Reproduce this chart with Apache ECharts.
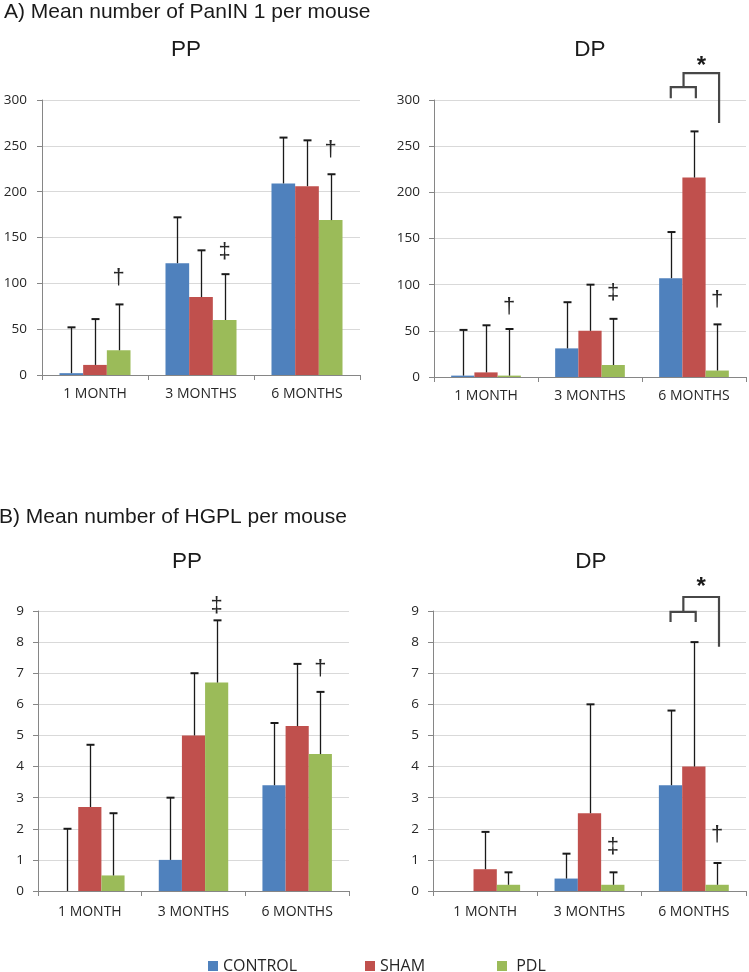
<!DOCTYPE html>
<html>
<head>
<meta charset="utf-8">
<script src="https://cdn.jsdelivr.net/npm/echarts@6/dist/echarts.min.js"></script>
<style>
html,body{margin:0;padding:0;background:#fff;}
#chart{width:749px;height:972px;}
</style>
</head>
<body>
<div id="chart"></div>
<script>
// ---------- data ----------
const categories = ['1 MONTH', '3 MONTHS', '6 MONTHS'];
const groupNames = ['CONTROL', 'SHAM', 'PDL'];
const colors = ['#4f81bd', '#c0504d', '#9bbb59'];

// A) PanIN 1 – PP  (mean, mean+SD)
const aPP_control = [2, 122, 209];
const aPP_sham = [11, 85, 206];
const aPP_pdl = [27, 60, 169];
const aPP_control_top = [52, 172, 259];
const aPP_sham_top = [61, 136, 256];
const aPP_pdl_top = [77, 110, 219];

// A) PanIN 1 – DP
const aDP_control = [1.5, 31, 107];
const aDP_sham = [5, 50, 216];
const aDP_pdl = [1.5, 13, 7];
const aDP_control_top = [51, 81, 157];
const aDP_sham_top = [56, 100, 266];
const aDP_pdl_top = [52, 63, 57];

// B) HGPL – PP
const bPP_control = [0, 1, 3.4];
const bPP_sham = [2.7, 5, 5.3];
const bPP_pdl = [0.5, 6.7, 4.4];
const bPP_control_top = [2, 3, 5.4];
const bPP_sham_top = [4.7, 7, 7.3];
const bPP_pdl_top = [2.5, 8.7, 6.4];

// B) HGPL – DP
const bDP_control = [0, 0.4, 3.4];
const bDP_sham = [0.7, 2.5, 4];
const bDP_pdl = [0.2, 0.2, 0.2];
const bDP_control_top = [0, 1.2, 5.8];
const bDP_sham_top = [1.9, 6, 8];
const bDP_pdl_top = [0.6, 0.6, 0.9];

// significance symbols: [category index, group index, value level, symbol]
const aPP_marks = [[0, 2, 106, '†'], [1, 2, 134, '‡'], [2, 2, 245, '†']];
const aDP_marks = [[0, 2, 76, '†'], [1, 2, 91, '‡'], [2, 2, 84, '†']];
const bPP_marks = [[1, 2, 9.16, '‡'], [2, 2, 7.14, '†']];
const bDP_marks = [[1, 2, 1.41, '‡'], [2, 2, 1.8, '†']];

// brackets (value levels): [cat, legBottom, smallLevel, bigLevel, rightLegBottom, starLevel]
const aDP_bracket = [2, 302, 314, 329, 275, 340];
const bDP_bracket = [2, 8.65, 8.97, 9.45, 7.85, 9.84];

// y axis ticks
const aTicks = {min: 0, max: 300, interval: 50};
const bTicks = {min: 0, max: 9, interval: 1};

// ---------- layout / style ----------
const CAT_GAP = 0.33;
const FONT = "'Open Sans', 'Liberation Sans', sans-serif";
const grids = [
  {left: 42, top: 100, width: 318, height: 275},
  {left: 434, top: 100, width: 312, height: 277},
  {left: 38, top: 611, width: 311, height: 280},
  {left: 433, top: 611, width: 313, height: 280}
];
const yMargins = [15, 14, 14, 14];
const xMargins = [12, 12, 14, 14];
const yScales = [aTicks, aTicks, bTicks, bTicks];

function barW(api) {
  const band = api.size([1, 0])[0];
  return band * (1 - CAT_GAP) / 3;
}

function barSeries(g, name, idx, data) {
  return {
    type: 'bar', name: name, xAxisIndex: g, yAxisIndex: g, data: data,
    barGap: '0%', barCategoryGap: (CAT_GAP * 100) + '%',
    itemStyle: {color: colors[idx]}, silent: true, animation: false
  };
}

function errSeries(g, idx, means, tops) {
  return {
    type: 'custom', xAxisIndex: g, yAxisIndex: g, silent: true, animation: false, z: 5,
    data: means.map((m, i) => [i, m, tops[i]]),
    renderItem: function (params, api) {
      const c = api.value(0);
      const p0 = api.coord([c, api.value(1)]);
      const p1 = api.coord([c, api.value(2)]);
      if (api.value(2) <= api.value(1)) return null;
      const x = Math.round(p0[0] + (idx - 1) * barW(api)) + 0.5;
      return {
        type: 'group', children: [
          {type: 'line', shape: {x1: x, y1: p0[1], x2: x, y2: p1[1]}, style: {stroke: '#1a1a1a', lineWidth: 1.3}},
          {type: 'line', shape: {x1: x - 4, y1: p1[1], x2: x + 4, y2: p1[1]}, style: {stroke: '#1a1a1a', lineWidth: 2}}
        ]
      };
    }
  };
}

function markSeries(g, marks) {
  return {
    type: 'custom', xAxisIndex: g, yAxisIndex: g, silent: true, animation: false, z: 6,
    data: marks.map(m => [m[0], m[1], m[2]]),
    renderItem: function (params, api) {
      const p = api.coord([api.value(0), api.value(2)]);
      const x = p[0] + (api.value(1) - 1) * barW(api);
      return {
        type: 'text', x: x, y: p[1],
        style: {text: marks[params.dataIndex][3], fontSize: 22, fontFamily: "'Liberation Sans', Arial, sans-serif",
          fill: '#262626', align: 'center', verticalAlign: 'middle'}
      };
    }
  };
}

function bracketSeries(g, b) {
  return {
    type: 'custom', xAxisIndex: g, yAxisIndex: g, silent: true, animation: false, z: 6, clip: false,
    data: [b],
    renderItem: function (params, api) {
      const c = api.value(0);
      const w = barW(api);
      const cx = api.coord([c, 0])[0];
      const Y = v => api.coord([c, v])[1];
      const xl = cx - 1.0 * w, xr = cx + 0.08 * w, xm = cx - 0.45 * w, xR = cx + 1.08 * w;
      const yLeg = Y(api.value(1)), ySmall = Y(api.value(2)), yBig = Y(api.value(3)),
            yRB = Y(api.value(4)), yStar = Y(api.value(5));
      const st = {stroke: '#474747', lineWidth: 2.2, fill: null};
      return {
        type: 'group', children: [
          {type: 'polyline', shape: {points: [[xl, yLeg], [xl, ySmall], [xr, ySmall], [xr, yLeg]]}, style: st},
          {type: 'polyline', shape: {points: [[xm, ySmall], [xm, yBig], [xR, yBig], [xR, yRB]]}, style: st},
          {type: 'text', x: (xm + xR) / 2, y: yStar + 3,
            style: {text: '*', fontSize: 24, fontWeight: 'bold', fontFamily: "'Liberation Sans', Arial, sans-serif",
              fill: '#1a1a1a', align: 'center', verticalAlign: 'middle'}}
        ]
      };
    }
  };
}

const xAxes = grids.map((g, i) => ({
  type: 'category', gridIndex: i, data: categories,
  axisLine: {lineStyle: {color: '#868686', width: 1}},
  axisTick: {show: true, length: 5, lineStyle: {color: '#868686'}},
  axisLabel: {fontSize: 14, color: '#262626', fontFamily: FONT, margin: xMargins[i]}
}));
const yAxes = grids.map((g, i) => ({
  type: 'value', gridIndex: i, min: yScales[i].min, max: yScales[i].max, interval: yScales[i].interval,
  axisLine: {show: true, lineStyle: {color: '#868686', width: 1}},
  axisTick: {show: true, length: 5, lineStyle: {color: '#868686'}},
  splitLine: {lineStyle: {color: '#d9d9d9', width: 1}},
  axisLabel: {fontSize: 13.5, color: '#262626', fontFamily: FONT, margin: yMargins[i]}
}));

const series = [
  barSeries(0, 'CONTROL', 0, aPP_control), barSeries(0, 'SHAM', 1, aPP_sham), barSeries(0, 'PDL', 2, aPP_pdl),
  barSeries(1, 'CONTROL', 0, aDP_control), barSeries(1, 'SHAM', 1, aDP_sham), barSeries(1, 'PDL', 2, aDP_pdl),
  barSeries(2, 'CONTROL', 0, bPP_control), barSeries(2, 'SHAM', 1, bPP_sham), barSeries(2, 'PDL', 2, bPP_pdl),
  barSeries(3, 'CONTROL', 0, bDP_control), barSeries(3, 'SHAM', 1, bDP_sham), barSeries(3, 'PDL', 2, bDP_pdl),
  errSeries(0, 0, aPP_control, aPP_control_top), errSeries(0, 1, aPP_sham, aPP_sham_top), errSeries(0, 2, aPP_pdl, aPP_pdl_top),
  errSeries(1, 0, aDP_control, aDP_control_top), errSeries(1, 1, aDP_sham, aDP_sham_top), errSeries(1, 2, aDP_pdl, aDP_pdl_top),
  errSeries(2, 0, bPP_control, bPP_control_top), errSeries(2, 1, bPP_sham, bPP_sham_top), errSeries(2, 2, bPP_pdl, bPP_pdl_top),
  errSeries(3, 0, bDP_control, bDP_control_top), errSeries(3, 1, bDP_sham, bDP_sham_top), errSeries(3, 2, bDP_pdl, bDP_pdl_top),
  markSeries(0, aPP_marks), markSeries(1, aDP_marks), markSeries(2, bPP_marks), markSeries(3, bDP_marks),
  bracketSeries(1, aDP_bracket), bracketSeries(3, bDP_bracket)
];

const legendBase = {
  top: 953, itemWidth: 10, itemHeight: 10, icon: 'rect', selectedMode: false,
  textStyle: {fontSize: 16, fontFamily: FONT, color: '#262626'}
};
const legends = [
  Object.assign({}, legendBase, {data: ['CONTROL'], left: 203}),
  Object.assign({}, legendBase, {data: ['SHAM'], left: 360}),
  Object.assign({}, legendBase, {data: ['PDL'], left: 492, formatter: ' {name}'})
];

const titleFont = "'Liberation Sans', Arial, sans-serif";
function txt(x, y, s, size, align) {
  return {type: 'text', x: x, y: y, silent: true,
    style: {text: s, fontSize: size, fontFamily: titleFont, fill: '#1a1a1a', align: align || 'center', verticalAlign: 'middle'}};
}

const chart = echarts.init(document.getElementById('chart'), null, {renderer: 'canvas'});
chart.setOption({
  backgroundColor: '#ffffff',
  animation: false,
  grid: grids,
  xAxis: xAxes,
  yAxis: yAxes,
  legend: legends,
  series: series,
  graphic: [
    txt(4, 12, 'A) Mean number of PanIN 1 per mouse', 21, 'left'),
    txt(186, 50, 'PP', 22.5),
    txt(590, 50, 'DP', 22.5),
    txt(-1, 517, 'B) Mean number of HGPL per mouse', 21, 'left'),
    txt(187, 562, 'PP', 22.5),
    txt(591, 562, 'DP', 22.5)
  ]
});
</script>
</body>
</html>
